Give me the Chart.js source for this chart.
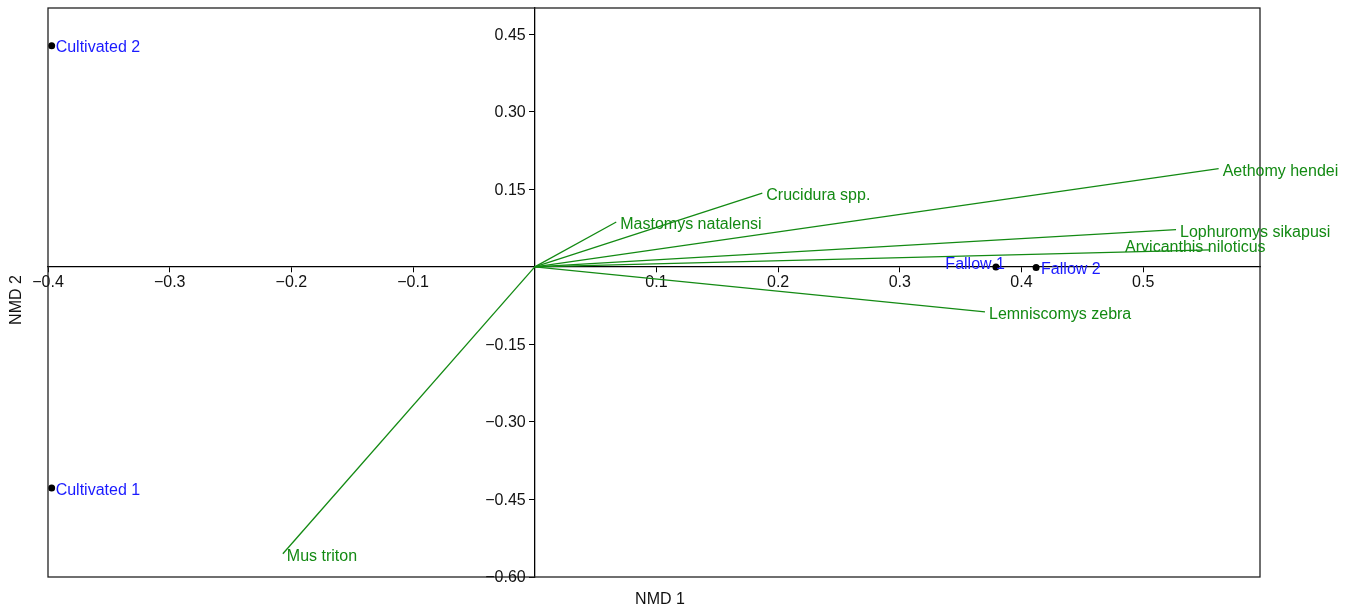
<!DOCTYPE html>
<html>
<head>
<meta charset="utf-8">
<script src="https://cdn.jsdelivr.net/npm/chart.js@4.4.0/dist/chart.umd.min.js"></script>
<style>
html, body { margin: 0; padding: 0; background: #fff; }
#wrap { width: 1354px; height: 609px; position: relative; }
</style>
</head>
<body>
<div id="wrap"><canvas id="nmdsChart"></canvas></div>
<script>
// species vectors (NMD 1, NMD 2)
const speciesNames = ['Aethomy hendei', 'Lophuromys sikapusi', 'Arvicanthis niloticus', 'Lemniscomys zebra',
                      'Crucidura spp.', 'Mastomys natalensi', 'Mus triton'];
const speciesX = [0.562, 0.527, 0.555, 0.370, 0.187, 0.067, -0.207];
const speciesY = [0.190, 0.072, 0.033, -0.087, 0.143, 0.087, -0.555];

// site scores
const siteNames = ['Cultivated 1', 'Cultivated 2', 'Fallow 1', 'Fallow 2'];
const siteX = [-0.397, -0.397, 0.379, 0.412];
const siteY = [-0.428, 0.428, 0.000, -0.001];

// axis ticks
const xTickValues = [-0.4, -0.3, -0.2, -0.1, 0.1, 0.2, 0.3, 0.4, 0.5];
const xTickLabels = ['\u22120.4', '\u22120.3', '\u22120.2', '\u22120.1', '0.1', '0.2', '0.3', '0.4', '0.5'];
const yTickValues = [-0.6, -0.45, -0.3, -0.15, 0.15, 0.3, 0.45];
const yTickLabels = ['\u22120.60', '\u22120.45', '\u22120.30', '\u22120.15', '0.15', '0.30', '0.45'];

const FONT = 'Liberation Sans, Arial, sans-serif';
const FONT_SIZE = 16;
const GREEN = '#138a13';
const BLUE = '#1a1aff';

// label placement tweaks (pixels): [dx, dy, align]
const speciesNudge = { 'Arvicanthis niloticus': [-85, -2, 'left'] };
const siteNudge = { 'Fallow 1': [9, -2, 'right'], 'Fallow 2': [5, 2, 'left'] };

const speciesSets = speciesNames.map((name, i) => ({
    label: name,
    data: [{x: 0, y: 0}, {x: speciesX[i], y: speciesY[i]}],
    showLine: true,
    borderColor: GREEN,
    borderWidth: 1.3,
    pointRadius: 0,
    clip: false
}));

const siteSet = {
    label: 'Sites',
    data: siteNames.map((n, i) => ({x: siteX[i], y: siteY[i]})),
    showLine: false,
    pointRadius: 3.5,
    pointBackgroundColor: '#000',
    pointBorderWidth: 0,
    clip: false
};

const annotate = {
    id: 'annotate',
    afterDraw(chart) {
        const ctx = chart.ctx;
        const a = chart.chartArea;
        const xs = chart.scales.x, ys = chart.scales.y;
        ctx.save();
        // frame
        ctx.strokeStyle = '#222';
        ctx.lineWidth = 1.3;
        ctx.strokeRect(a.left, a.top, a.right - a.left, a.bottom - a.top);

        ctx.font = FONT_SIZE + 'px ' + FONT;
        ctx.textBaseline = 'middle';

        // y tick labels, left of the centred axis
        ctx.fillStyle = '#111';
        ctx.textAlign = 'right';
        const axisX = xs.getPixelForValue(0);
        yTickValues.forEach((v, i) => {
            ctx.fillText(yTickLabels[i], axisX - 9, ys.getPixelForValue(v) + 1);
        });

        // species labels
        ctx.fillStyle = GREEN;
        speciesNames.forEach((name, i) => {
            const n = speciesNudge[name] || [4, 2.5, 'left'];
            ctx.textAlign = n[2];
            ctx.fillText(name, xs.getPixelForValue(speciesX[i]) + n[0], ys.getPixelForValue(speciesY[i]) + n[1]);
        });

        // site labels
        ctx.fillStyle = BLUE;
        siteNames.forEach((name, i) => {
            const n = siteNudge[name] || [4, 2, 'left'];
            ctx.textAlign = n[2];
            ctx.fillText(name, xs.getPixelForValue(siteX[i]) + n[0], ys.getPixelForValue(siteY[i]) + n[1]);
        });

        // axis titles
        ctx.fillStyle = '#111';
        ctx.textAlign = 'center';
        ctx.fillText('NMD 1', 660, 600);
        ctx.translate(17, 300);
        ctx.rotate(-Math.PI / 2);
        ctx.fillText('NMD 2', 0, 0);
        ctx.restore();
    }
};

const tickFont = {family: FONT, size: FONT_SIZE};

new Chart(document.getElementById('nmdsChart'), {
    type: 'scatter',
    data: { datasets: speciesSets.concat([siteSet]) },
    options: {
        responsive: true,
        maintainAspectRatio: false,
        animation: false,
        layout: { padding: {left: 48, top: 8, right: 94, bottom: 32} },
        plugins: {
            legend: { display: false },
            tooltip: { enabled: false }
        },
        scales: {
            x: {
                type: 'linear',
                min: -0.4,
                max: 0.596,
                position: {y: 0},
                afterBuildTicks: s => { s.ticks = xTickValues.map(v => ({value: v})); },
                afterFit: s => { s.height = 0; s.paddingLeft = 0; s.paddingRight = 0; },
                grid: { drawOnChartArea: false, drawTicks: true, tickLength: 5, color: '#000' },
                border: { display: true, color: '#000', width: 1.3 },
                ticks: {
                    font: tickFont, color: '#111', padding: 1, maxRotation: 0, autoSkip: false,
                    callback: (v, i) => xTickLabels[i]
                }
            },
            y: {
                type: 'linear',
                min: -0.6,
                max: 0.501,
                position: {x: 0},
                afterBuildTicks: s => { s.ticks = yTickValues.map(v => ({value: v})); },
                afterFit: s => { s.width = 0; s.paddingTop = 0; s.paddingBottom = 0; },
                grid: { drawOnChartArea: false, drawTicks: true, tickLength: 5, color: '#000' },
                border: { display: true, color: '#000', width: 1.3 },
                ticks: { display: false }
            }
        }
    },
    plugins: [annotate]
});
</script>
</body>
</html>
